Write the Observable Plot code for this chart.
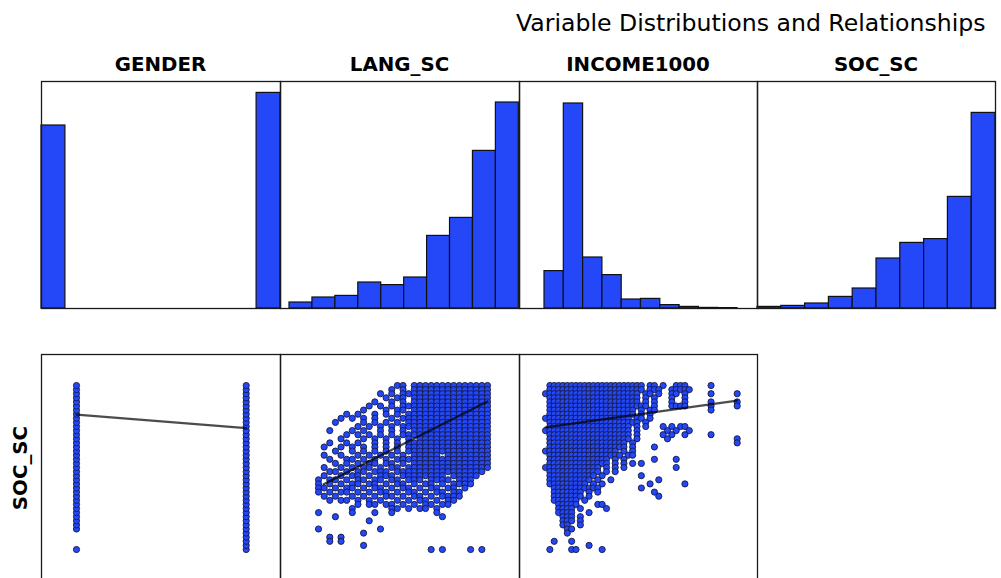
<!DOCTYPE html>
<html><head><meta charset="utf-8">
<script src="https://cdn.jsdelivr.net/npm/d3@7"></script>
<script src="https://cdn.jsdelivr.net/npm/@observablehq/plot@0.6"></script>
<style>
html,body{margin:0;padding:0;background:#fff;overflow:hidden;}
#root{position:relative;width:1001px;height:600px;font-family:"DejaVu Sans",sans-serif;color:#000;}
.t{position:absolute;line-height:1;white-space:nowrap;}
.panel{position:absolute;}
</style></head><body><div id="root"></div>
<script>
// ---------- data ----------
const variables = ["GENDER", "LANG_SC", "INCOME1000", "SOC_SC"];
const titleText = "Variable Distributions and Relationships";
const yLabel = "SOC_SC";

// histogram counts (10 bins each) and bin ranges
const genderCounts = [915, 0, 0, 0, 0, 0, 0, 0, 0, 1078];
const langCounts   = [30, 55, 63, 130, 117, 155, 363, 453, 788, 1030];
const incomeCounts = [187, 1025, 255, 167, 45, 48, 17, 8, 3, 2];
const socCounts    = [8, 13, 25, 58, 100, 250, 328, 347, 558, 978];
const genderRange = [0, 1];
const langRange   = [0, 10];
const incomeRange = [0, 250];
const socRange    = [0, 40];

// scatter: SOC_SC level (0..40) present for GENDER = 0 / 1, index = level
const socGender0 = "#.... ##### ##### ##### ##### ##### ##### ##### #";
const socGender1 = "##### ##### ##### ##### ##### ##### ##### ##### #";

// scatter LANG_SC level (columns 0..30) x SOC_SC level (rows 40 -> 0)
const langSocRows = [
"..... ..... ....# #.### ##### ##### #",
"..... ..... ...#. #.### ##### ##### #",
"..... ..... .#.#. ##### ##### ##### #",
"..... ..... ..#.# #.### ##### ##### #",
"..... ..... #..#. #.### ##### ##### #",
"..... ....# .#.#. ##### ##### ##### #",
"..... ...#. ..#.# #.### ##### ##### #",
"..... #.#.. #.#.# .#### ##### ##### #",
"....# .#.#. #..#. ##### ##### ##### #",
"...#. ...#. #.#.# .#### ##### ##### #",
"..... ..#.# .#.#. ##### ##### ##### #",
"..#.. .#.#. .#.#. #.### ##### ##### #",
"..... #.#.# .#.#. ##### ##### ##### #",
"....# ...#. #.#.# .#.## ##### ##### #",
"..#.. #.#.. #.#.# .#### ##### ##### #",
".#..# .#.#. #.#.# .#### ##### ##### #",
"...#. .#.#. #.#.# .#### ##### ##### #",
".#..# ..#.# .#.#. #.### ##.## ##### #",
"..#.. ##.#. #.#.# ##### ##### ##### #",
"...#. #.#.# #.##. #.### ##### ##### #",
".#..# .#.## .#.## .#### ##### ##### #",
"..##. #.##. ###.# ##### ##### ##### .",
".#..# .##.# .###. ##### ###.# ####. .",
"#.##. #.##. ##.## .###. ####. ###.. .",
"#.#.# .##.# #.#.# #.#.# #.#.# ###.. .",
"##.#. ##.#. ##.#. ##.#. ##.## .#... .",
"#.#.# #.#.# .##.# .##.# .##.# #.... .",
".#.#. .#.#. #.##. #.##. #.### #.... .",
"..#.# #.#.# .#..# .#.## .#.## ..... .",
"..... ..#.# #.##. #.#.# #.##. ..... .",
"..... .#... ...## .#.## .#... ..... .",
"#.... .#... #..#. ..... .#... ..... .",
"...#. ..... ..... ..... ..#.. ..... .",
"..... ....# ..... ..... ..... ..... .",
"..... ..... ..... ..... ..... ..... .",
"#.... ..... .#... ..... ..... ..... .",
"..... ...#. ..... ..... ..... ..... .",
"..#.# ..... ..... ..... ..... ..... .",
"..#.# ..... ..... ..... ..... ..... .",
"..... ...#. ..... ..... ..... ..... .",
"..... ..... ..... ..... #.#.. ..#.# ."
];

// scatter INCOME1000 level (columns 0..44) x SOC_SC level (rows 40 -> 0)
const incomeSocRows = [
".#### ##### ##### ##### ###.# #.#.. ###.. ...#. .....",
".#### ##### ##### ##### ###.# ##..# ####. ..... .....",
"##### ##### ##### ##### ##.## .#..# #.#.. ...#. ....#",
".#### ##### ##### ##### ##.#. #...# ..#.. ..... .....",
".#### ##### ##### ##### ##.#. #...# ..#.. ...#. ....#",
".#### ##### ##### ##### ####. #...# ###.. ...#. ....#",
".#### ##### ##### ##### #.#.# #.... ..... ...#. .....",
".#### ##### ##### ##### #.#.# ..... ..... ..... .....",
"##### ##### ##### ##### .##.# ..... ..... ..... .....",
".#### ##### ##### ##### ##.#. ..... ..... ..... .....",
".#### ##### ##### ##### .#.#. ..#.# .##.. ..... .....",
"##### ##### ##### ##### .#... ...#. #..#. ..... .....",
".#### ##### ##### ##### .#... ..#.# ..#.. ...#. .....",
".#### ##### ##### ##### .#... ...#. ..... ..... ....#",
".#### ##### ##### ####. #.... ..... ..... ..... ....#",
".#### ##### ##### ####. #.... #.... ..... ..... .....",
"##### ##### ##### ##.#. #.... ..... ..... ..... .....",
".#### ##### ##### ###.# #.... ..... ..... ..... .....",
".#### ##### ##### .#.#. ..... #.... #.... ..... .....",
".#### ##### ##### .#.#. #.#.. ..... ..... ..... .....",
"##### ##### ###.# .#.#. ..... ..... #.... ..... .....",
".#### ##### ###.# .#... ..... ..... ..... ..... .....",
".#### ##### ##.#. ..... ..#.. ..... ..... ..... .....",
".#### ##### #.#.. #.... ..... .#... ..... ..... .....",
".#### ##### .#.#. ..... ....# ..... ..#.. ..... .....",
"..### ##### ###.. ..... ..#.. ..... ..... ..... .....",
"..### ####. #.#.. ..... ..... #.... ..... ..... .....",
"..### ####. #.... ..... ..... .#... ..... ..... .....",
"..### ###.# ..... ..... ..... ..... ..... ..... .....",
"...## ###.. ..##. ..... ..... ..... ..... ..... .....",
"...## ##.#. ....# ..... ..... ..... ..... ..... .....",
"...## ##... #.... ..... ..... ..... ..... ..... .....",
"....# ##.#. ..... ..... ..... ..... ..... ..... .....",
"....# ##.#. ..... ..... ..... ..... ..... ..... .....",
"....# #..#. ..... ..... ..... ..... ..... ..... .....",
"..... ##... ..... ..... ..... ..... ..... ..... .....",
"..... #.... ..... ..... ..... ..... ..... ..... .....",
"..... ..... ..... ..... ..... ..... ..... ..... .....",
"..#.. .#... ..... ..... ..... ..... ..... ..... .....",
"..... ..... #.... ..... ..... ..... ..... ..... .....",
".#... .##.. ...#. ..... ..... ..... ..... ..... ....."
];

// fitted regression lines (endpoints)
const fitGender = [{x: 0, y: 32.9}, {x: 1, y: 29.6}];
const fitLang   = [{x: 0.9, y: 15.9}, {x: 30, y: 36.1}];
const fitIncome = [{x: 0, y: 29.8}, {x: 44, y: 36.3}];

// ---------- helpers ----------
const BLUE = "#2447f7";
const root = document.getElementById("root");
const cols = [{L: 41, W: 239}, {L: 280, W: 239}, {L: 519, W: 238}, {L: 757, W: 238}];
const topRow = {T: 81, H: 227};
const botRow = {T: 354, H: 227};

function bins(range, counts) {
  const step = (range[1] - range[0]) / counts.length;
  return counts.map((c, k) => ({x1: range[0] + k * step, x2: range[0] + (k + 1) * step, y: c}));
}
function gridPoints(rows) {
  const pts = [];
  rows.forEach((r, k) => {
    const s = r.replace(/ /g, "");
    const j = rows.length - 1 - k;
    for (let i = 0; i < s.length; i++) if (s[i] === "#") pts.push({x: i, y: j});
  });
  return pts;
}
function levelPoints(str, g) {
  const s = str.replace(/ /g, "");
  const pts = [];
  for (let j = 0; j < s.length; j++) if (s[j] === "#") pts.push({x: g, y: j});
  return pts;
}
function place(node, L, T) {
  const d = document.createElement("div");
  d.className = "panel";
  d.style.left = (L - 2) + "px";
  d.style.top = (T - 2) + "px";
  d.appendChild(node);
  root.appendChild(d);
}
function frame() { return Plot.frame({stroke: "#1a1a1a", strokeWidth: 1.3}); }

// ---------- histograms ----------
const histSpecs = [
  {data: bins(genderRange, genderCounts), dom: [0, 1]},
  {data: bins(langRange, langCounts), dom: [-0.3925, 10.03]},
  {data: bins(incomeRange, incomeCounts), dom: [-32.38, 275.9]},
  {data: bins(socRange, socCounts), dom: [0, 40]}
];
histSpecs.forEach((h, c) => {
  const {L, W} = cols[c];
  const p = Plot.plot({
    width: W + 4, height: topRow.H + 4, margin: 2,
    x: {domain: h.dom, axis: null},
    y: {domain: [0, 1135], axis: null},
    marks: [
      Plot.rectY(h.data, {x1: "x1", x2: "x2", y: "y", fill: BLUE, stroke: "#111", strokeWidth: 1.2}),
      frame()
    ]
  });
  place(p, L, topRow.T);
});

// ---------- scatters ----------
const yDom = [-7.8, 47.56];
const scatterSpecs = [
  {pts: levelPoints(socGender0, 0).concat(levelPoints(socGender1, 1)), dom: [-0.2062, 1.2021], fit: fitGender},
  {pts: gridPoints(langSocRows), dom: [-6.75, 35.68], fit: fitLang},
  {pts: gridPoints(incomeSocRows), dom: [-5.97, 48.66], fit: fitIncome}
];
scatterSpecs.forEach((s, c) => {
  const {L, W} = cols[c];
  const p = Plot.plot({
    width: W + 4, height: botRow.H + 4, margin: 2,
    x: {domain: s.dom, axis: null},
    y: {domain: yDom, axis: null},
    marks: [
      Plot.dot(s.pts, {x: "x", y: "y", r: 3.1, fill: BLUE, stroke: "#141a45", strokeWidth: 0.9}),
      Plot.line(s.fit, {x: "x", y: "y", stroke: "black", strokeOpacity: 0.7, strokeWidth: 2.2}),
      frame()
    ]
  });
  place(p, L, botRow.T);
});

// ---------- text ----------
function addText(txt, css) {
  const d = document.createElement("div");
  d.className = "t";
  d.textContent = txt;
  Object.assign(d.style, css);
  root.appendChild(d);
  return d;
}
addText(titleText, {left: "516px", top: "11.8px", fontSize: "23.6px"});
variables.forEach((v, c) => {
  addText(v, {left: cols[c].L + "px", top: "55.2px", width: cols[c].W + "px", textAlign: "center",
    fontSize: "19.8px", fontWeight: "bold"});
});
addText(yLabel, {left: "21px", top: "468px", fontSize: "19.8px", fontWeight: "bold",
  transform: "translate(-50%,-50%) rotate(-90deg)"});
</script>
</body></html>
